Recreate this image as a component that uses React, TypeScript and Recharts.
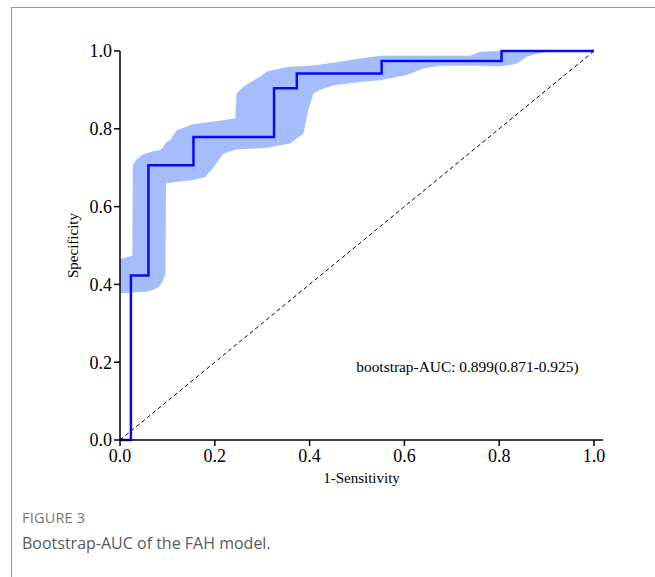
import {
  ComposedChart,
  Area,
  Line,
  XAxis,
  YAxis,
  ReferenceLine,
  ReferenceDot,
} from "recharts"

// bootstrap confidence band (1-sensitivity, lower / upper specificity)
const bandX = [
  0, 0.015, 0.026, 0.027, 0.035, 0.046, 0.053, 0.07, 0.082, 0.089, 0.096, 0.097,
  0.106, 0.12, 0.152, 0.18, 0.197, 0.218, 0.243, 0.246, 0.26, 0.295, 0.31, 0.359,
  0.387, 0.397, 0.408, 0.422, 0.45, 0.485, 0.506, 0.549, 0.605, 0.64, 0.675, 0.738,
  0.76, 0.8, 0.837, 0.858, 0.879, 0.9, 1.0,
]
const bandLow = [
  0.377, 0.378, 0.379, 0.379, 0.38, 0.381, 0.38, 0.386, 0.393, 0.405, 0.428, 0.66,
  0.661, 0.664, 0.668, 0.676, 0.7, 0.736, 0.746, 0.747, 0.748, 0.75, 0.751, 0.762,
  0.788, 0.848, 0.891, 0.9, 0.912, 0.917, 0.92, 0.925, 0.938, 0.955, 0.962, 0.962,
  0.962, 0.96, 0.967, 0.985, 0.993, 0.998, 1.0,
]
const bandHigh = [
  0.466, 0.47, 0.474, 0.706, 0.722, 0.732, 0.736, 0.742, 0.745, 0.75, 0.763, 0.765,
  0.771, 0.796, 0.811, 0.816, 0.819, 0.822, 0.827, 0.891, 0.908, 0.934, 0.947, 0.96,
  0.961, 0.962, 0.963, 0.965, 0.97, 0.977, 0.981, 0.988, 0.988, 0.988, 0.988, 0.988,
  0.998, 1.0, 1.0, 1.0, 1.0, 1.0, 1.0,
]

// ROC step curve
const rocX = [0, 0.023, 0.06, 0.155, 0.325, 0.373, 0.552, 0.805, 1.0]
const rocY = [0, 0.423, 0.706, 0.779, 0.904, 0.942, 0.974, 1.0, 1.0]

const xTicks = [0, 0.2, 0.4, 0.6, 0.8, 1.0]
const yTicks = [0, 0.2, 0.4, 0.6, 0.8, 1.0]

const aucText = "bootstrap-AUC: 0.899(0.871-0.925)"

const bandData = bandX.map((x, i) => ({ x, range: [bandLow[i], bandHigh[i]] }))
const rocData = rocX.map((x, i) => ({ x, y: rocY[i] }))

const serif = "'Liberation Serif', 'Times New Roman', serif"
const tickStyle = { fontSize: 18, fill: "#000", fontFamily: serif }

export default function App() {
  return (
    <div style={{ position: "absolute", left: 0, top: 0, width: 655, height: 577, background: "#fff" }}>
      <div
        style={{
          position: "absolute",
          left: 11,
          top: 7,
          width: 644,
          height: 570,
          borderTop: "1px solid #9a9a9a",
          borderLeft: "1px solid #9a9a9a",
        }}
      />
      <div style={{ position: "absolute", left: 0, top: 0 }}>
        <ComposedChart width={655} height={500} margin={{ top: 51, right: 52, bottom: 0, left: 0 }}>
          <XAxis
            type="number"
            dataKey="x"
            domain={[0, 1.019]}
            ticks={xTicks}
            tickFormatter={(v: number) => v.toFixed(1)}
            tickSize={6}
            tickMargin={3}
            height={60}
            stroke="#000"
            strokeWidth={1.5}
            tick={tickStyle}
            allowDataOverflow
            label={{
              value: "1-Sensitivity",
              position: "insideBottom",
              offset: 17,
              fontSize: 15,
              fill: "#000",
              fontFamily: serif,
            }}
          />
          <YAxis
            type="number"
            domain={[0, 1]}
            ticks={yTicks}
            tickFormatter={(v: number) => v.toFixed(1)}
            tickSize={6}
            width={120}
            stroke="#000"
            strokeWidth={1.5}
            tick={tickStyle}
            label={{
              content: (p: any) => {
                const cy = p.viewBox.y + p.viewBox.height / 2
                return (
                  <text
                    x={78}
                    y={cy}
                    transform={`rotate(-90, 78, ${cy})`}
                    textAnchor="middle"
                    fontSize={15}
                    fontFamily={serif}
                    fill="#000"
                  >
                    Specificity
                  </text>
                )
              },
            }}
          />
          <Area
            data={bandData}
            dataKey="range"
            type="linear"
            fill="#a6bdfb"
            fillOpacity={1}
            stroke="none"
            isAnimationActive={false}
          />
          <ReferenceLine
            segment={[
              { x: 0, y: 0 },
              { x: 1, y: 1 },
            ]}
            stroke="#000"
            strokeWidth={1}
            strokeDasharray="4 3"
          />
          <Line
            data={rocData}
            dataKey="y"
            type="stepAfter"
            stroke="#0a0af0"
            strokeWidth={2.5}
            dot={false}
            isAnimationActive={false}
          />
          <ReferenceDot
            x={0.733}
            y={0.188}
            r={0}
            fill="none"
            stroke="none"
            label={{ value: aucText, position: "center", fontSize: 15.4, fill: "#000", fontFamily: serif }}
          />
        </ComposedChart>
      </div>
      <div
        style={{
          position: "absolute",
          left: 22,
          top: 508,
          fontFamily: "'Open Sans', sans-serif",
          fontSize: 14.5,
          color: "#777",
          letterSpacing: 0.2,
        }}
      >
        FIGURE 3
      </div>
      <div
        style={{
          position: "absolute",
          left: 22,
          top: 532,
          fontFamily: "'Open Sans', sans-serif",
          fontSize: 16,
          color: "#5a5a5a",
        }}
      >
        Bootstrap-AUC of the FAH model.
      </div>
    </div>
  )
}
